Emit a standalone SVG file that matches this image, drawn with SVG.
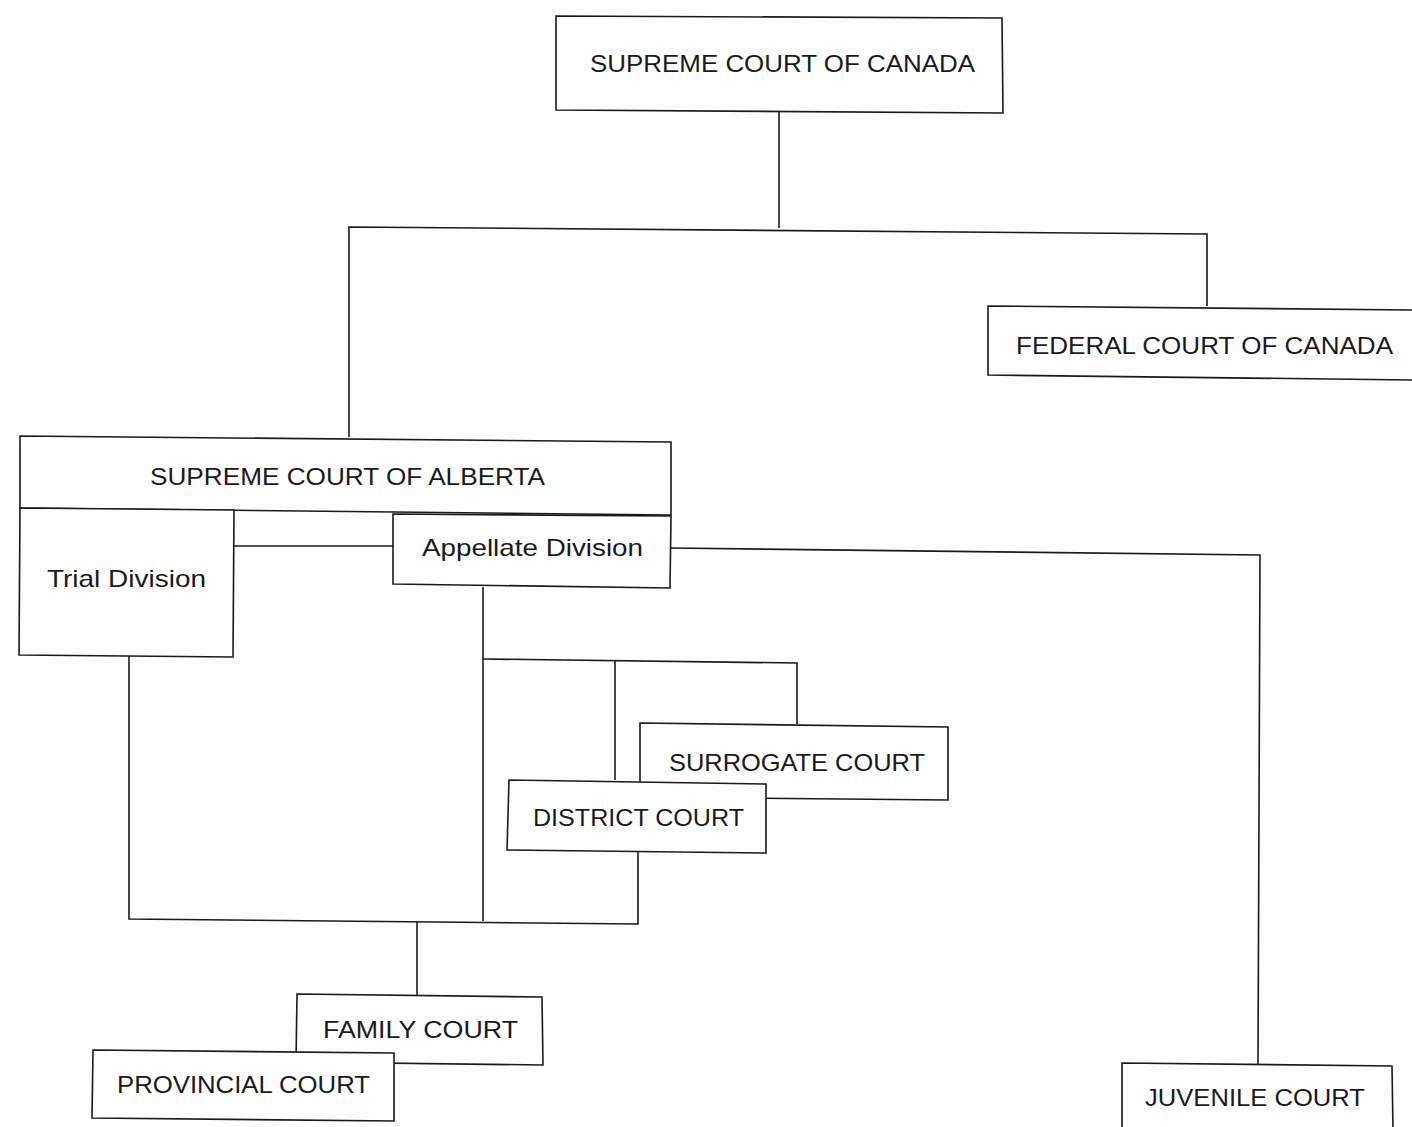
<svg xmlns="http://www.w3.org/2000/svg" width="1412" height="1127" viewBox="0 0 1412 1127">
<style>
.bx{fill:#fefefe;stroke:#1a1a1a;stroke-width:1.6}
.ln{fill:none;stroke:#1a1a1a;stroke-width:1.6}
.t{font-family:"Liberation Sans",Arial,sans-serif;font-size:24px;fill:#1a1a1a}
</style>
<rect width="1412" height="1127" fill="#fefefe"/>
<g id="connectors">
<polyline class="ln" points="779,112 779,228"/>
<polyline class="ln" points="349,437 349,227 1207,234 1207,306"/>
<polyline class="ln" points="234,546 393,546"/>
<polyline class="ln" points="671,548 1260,555 1258,1065"/>
<polyline class="ln" points="483,587 483,921"/>
<polyline class="ln" points="483,659 797,663 797,724"/>
<polyline class="ln" points="615,661 615,780"/>
<polyline class="ln" points="129,656 129,919 638,924 638,852"/>
<polyline class="ln" points="417,922 417,995"/>
</g>
<g id="supreme-court-canada">
<polygon class="bx" points="556,16 1002,18 1003,113 556,110"/>
<text class="t" x="590" y="72" textLength="385" lengthAdjust="spacingAndGlyphs">SUPREME COURT OF CANADA</text>
</g>
<g id="federal-court">
<polygon class="bx" points="988,306 1414,310 1414,380 988,375"/>
<text class="t" x="1016" y="354" textLength="377" lengthAdjust="spacingAndGlyphs">FEDERAL COURT OF CANADA</text>
</g>
<g id="supreme-court-alberta">
<polygon class="bx" points="20,436 671,442 671,515 20,508"/>
<text class="t" x="150" y="485" textLength="395" lengthAdjust="spacingAndGlyphs">SUPREME COURT OF ALBERTA</text>
</g>
<g id="trial-division">
<polygon class="bx" points="20,508 234,510 233,657 19,655"/>
<text class="t" x="47" y="587" textLength="159" lengthAdjust="spacingAndGlyphs">Trial Division</text>
</g>
<g id="appellate-division">
<polygon class="bx" points="393,514 671,516 670,588 393,584"/>
<text class="t" x="422" y="556" textLength="221" lengthAdjust="spacingAndGlyphs">Appellate Division</text>
</g>
<g id="surrogate-court">
<polygon class="bx" points="640,723 948,727 948,800 640,797"/>
<text class="t" x="669" y="771" textLength="256" lengthAdjust="spacingAndGlyphs">SURROGATE COURT</text>
</g>
<g id="district-court">
<polygon class="bx" points="509,780 766,784 766,853 507,850"/>
<text class="t" x="533" y="826" textLength="211" lengthAdjust="spacingAndGlyphs">DISTRICT COURT</text>
</g>
<g id="family-court">
<polygon class="bx" points="297,994 542,997 543,1065 296,1062"/>
<text class="t" x="323" y="1038" textLength="195" lengthAdjust="spacingAndGlyphs">FAMILY COURT</text>
</g>
<g id="provincial-court">
<polygon class="bx" points="93,1050 394,1053 394,1121 92,1118"/>
<text class="t" x="117" y="1093" textLength="253" lengthAdjust="spacingAndGlyphs">PROVINCIAL COURT</text>
</g>
<g id="juvenile-court">
<polygon class="bx" points="1122,1063 1392,1066 1393,1130 1122,1130"/>
<text class="t" x="1145" y="1106" textLength="220" lengthAdjust="spacingAndGlyphs">JUVENILE COURT</text>
</g>
</svg>
